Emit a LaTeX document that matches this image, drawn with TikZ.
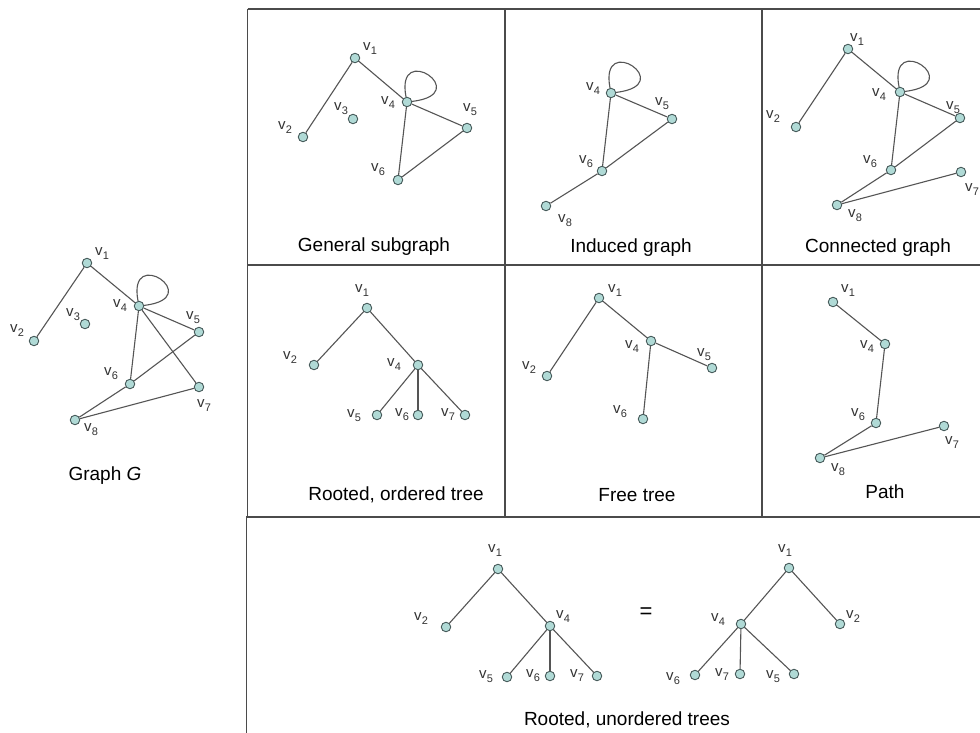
\documentclass[tikz,border=0pt]{standalone}
\usepackage{fontspec}
\setmainfont{Liberation Sans}
\definecolor{nodefill}{RGB}{176,218,214}
\definecolor{nodedraw}{RGB}{70,90,90}
\definecolor{edgec}{RGB}{85,85,85}
\definecolor{framec}{RGB}{75,75,75}
\newcommand\vl[1]{v\kern0.2pt\raisebox{-4pt}{\fontsize{11}{11}\selectfont #1}}
\tikzset{
 vert/.style={circle,draw=nodedraw,fill=nodefill,line width=0.9pt,minimum size=9.5pt,inner sep=0pt},
 vlab/.style={inner sep=0pt,font=\fontsize{15}{17}\selectfont,text=black!80},
 edge/.style={draw=edgec,line width=1.1pt},
 frame/.style={draw=framec,line width=1.5pt},
 title/.style={inner sep=0pt,font=\fontsize{19}{21}\selectfont}
}
\begin{document}
\begin{tikzpicture}[x=1pt,y=-1pt]
\useasboundingbox[fill=white] (0,0) rectangle (980,733);
% frame
\draw[frame] (247.5,9) -- (980,9);
\draw[frame] (247.5,265) -- (980,265);
\draw[frame] (247,517) -- (980,517);
\draw[frame] (247.5,9) -- (247.5,517) -- (246.5,517) -- (246.5,733);
\draw[frame] (505,9) -- (505,517);
\draw[frame] (762,9) -- (762,517);
% Graph G
\foreach \n/\x/\y/\lx/\ly in {1/87/263/102/254,2/34/341/17/331,3/85/324/73/315,4/139/306/120/306,5/199/332/193/318,6/130/384/111/374,7/199/387/204/406,8/75/420/91/430}{
 \node[vert] (G\n) at (\x,\y) {};
 \node[vlab] (G\n l) at (\lx,\ly) {\vl{\n}};
}
\foreach \a/\b in {1/2,1/4,4/5,4/6,4/7,5/6,6/8,7/8}{\draw[edge] (G\a) -- (G\b);}
\draw[edge] (G4) .. controls +(-12,-62) and +(68,-8) .. (G4);
\node[title] (Gt) at (105,476) {Graph \textit{G}};
% General subgraph
\foreach \n/\x/\y/\lx/\ly in {1/355/58/370/49,2/303/137/285/128,3/353/119/341/109,4/407/102/388/103,5/467/128/470/110,6/398/180/378/170}{
 \node[vert] (A\n) at (\x,\y) {};
 \node[vlab] (A\n l) at (\lx,\ly) {\vl{\n}};
}
\foreach \a/\b in {1/2,1/4,4/5,4/6,5/6}{\draw[edge] (A\a) -- (A\b);}
\draw[edge] (A4) .. controls +(-12,-62) and +(68,-8) .. (A4);
\node[title] (At) at (374,247) {General subgraph};
% Induced graph
\foreach \n/\x/\y/\lx/\ly in {4/611/93/593/89,5/672/119/662/104,6/602/171/586/162,8/546/206/565/221}{
 \node[vert] (B\n) at (\x,\y) {};
 \node[vlab] (B\n l) at (\lx,\ly) {\vl{\n}};
}
\foreach \a/\b in {4/5,4/6,5/6,6/8}{\draw[edge] (B\a) -- (B\b);}
\draw[edge] (B4) .. controls +(-12,-62) and +(68,-8) .. (B4);
\node[title] (Bt) at (631,248) {Induced graph};
% Connected graph
\foreach \n/\x/\y/\lx/\ly in {1/848/49/857/40,2/796/127/773/117,4/900/92/879/95,5/960/118/953/108,6/891/170/870/162,7/961/172/972/190,8/837/205/855/216}{
 \node[vert] (C\n) at (\x,\y) {};
 \node[vlab] (C\n l) at (\lx,\ly) {\vl{\n}};
}
\foreach \a/\b in {1/2,1/4,4/5,4/6,5/6,6/8,8/7}{\draw[edge] (C\a) -- (C\b);}
\draw[edge] (C4) .. controls +(-12,-62) and +(68,-8) .. (C4);
\node[title] (Ct) at (878,248) {Connected graph};
% Rooted, ordered tree
\foreach \n/\x/\y/\lx/\ly in {1/367/308/362/291,2/314/365/290/358,4/418/365/394/365,5/377/415/354/416,6/418/415/402/415,7/465/415/448/415}{
 \node[vert] (D\n) at (\x,\y) {};
 \node[vlab] (D\n l) at (\lx,\ly) {\vl{\n}};
}
\foreach \a/\b in {1/2,1/4,4/5,4/6,4/7}{\draw[edge] (D\a) -- (D\b);}
\node[title] (Dt) at (396,495) {Rooted, ordered tree};
% Free tree
\foreach \n/\x/\y/\lx/\ly in {1/599/298/615/291,2/547/376/529/368,4/651/341/632/347,5/712/368/704/355,6/643/419/620/412}{
 \node[vert] (E\n) at (\x,\y) {};
 \node[vlab] (E\n l) at (\lx,\ly) {\vl{\n}};
}
\foreach \a/\b in {1/2,1/4,4/5,4/6}{\draw[edge] (E\a) -- (E\b);}
\node[title] (Et) at (637,495) {Free tree};
% Path
\foreach \n/\x/\y/\lx/\ly in {1/833/302/848/291,4/885/344/867/347,6/876/423/858/415,7/944/426/952/443,8/820/458/838/470}{
 \node[vert] (F\n) at (\x,\y) {};
 \node[vlab] (F\n l) at (\lx,\ly) {\vl{\n}};
}
\foreach \a/\b in {1/4,4/6,6/8,8/7}{\draw[edge] (F\a) -- (F\b);}
\node[title] (Ft) at (885,492) {Path};
% Rooted, unordered trees
\foreach \n/\x/\y/\lx/\ly in {1/498/569/495/551,2/446/627/421/619,4/550/626/563/617,5/507/677/486/677,6/550/676/533/676,7/597/676/577/676}{
 \node[vert] (L\n) at (\x,\y) {};
 \node[vlab] (L\n l) at (\lx,\ly) {\vl{\n}};
}
\foreach \a/\b in {1/2,1/4,4/5,4/6,4/7}{\draw[edge] (L\a) -- (L\b);}
\foreach \n/\x/\y/\lx/\ly in {1/789/568/785/551,4/741/624/718/620,2/840/624/853/617,6/695/675/673/679,7/740/674/722/675,5/794/674/773/677}{
 \node[vert] (R\n) at (\x,\y) {};
 \node[vlab] (R\n l) at (\lx,\ly) {\vl{\n}};
}
\foreach \a/\b in {1/4,1/2,4/6,4/7,4/5}{\draw[edge] (R\a) -- (R\b);}
\node[inner sep=0pt,font=\fontsize{22}{24}\selectfont] (eq) at (646,613) {=};
\node[title] (Lt) at (627,720) {Rooted, unordered trees};
\end{tikzpicture}
\end{document}
